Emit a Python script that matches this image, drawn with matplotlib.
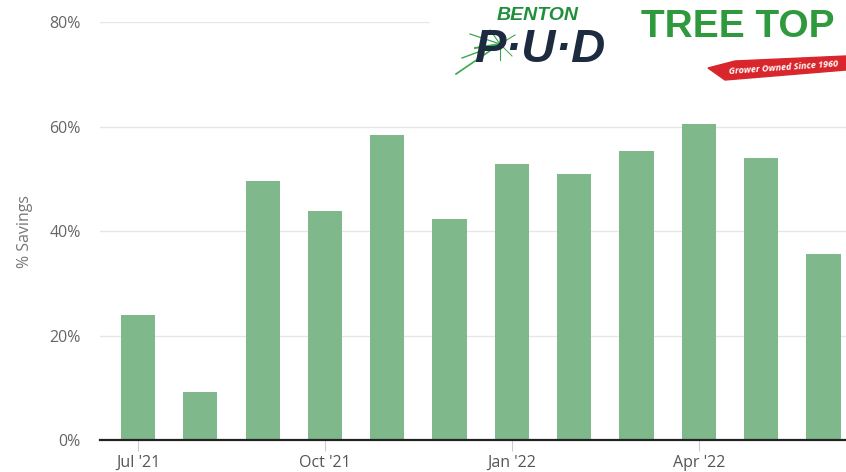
import matplotlib
matplotlib.use("Agg")
import matplotlib.pyplot as plt
from matplotlib.patches import Polygon, Rectangle

months = ["Jul '21", "Aug '21", "Sep '21", "Oct '21", "Nov '21", "Dec '21",
          "Jan '22", "Feb '22", "Mar '22", "Apr '22", "May '22", "Jun '22"]
savings = [23.9, 9.1, 49.6, 43.9, 58.4, 42.3, 52.9, 51.0, 55.4, 60.6, 54.0, 35.6]
tick_idx = [0, 3, 6, 9]
yticks = [0, 20, 40, 60, 80]

plt.rcParams["font.family"] = ["Open Sans", "DejaVu Sans"]

W, H = 846, 472
fig = plt.figure(figsize=(W / 100, H / 100), dpi=100)
ax = fig.add_axes([100 / W, 1 - 440 / H, 1 - 100 / W, (440 - 22.4) / H])

x = list(range(len(savings)))
ax.bar(x, savings, width=0.55, color="#7fb98b", zorder=2)
ax.set_xlim(-0.61, 11.36)
ax.set_ylim(0, 80)
ax.set_yticks(yticks)
ax.set_yticklabels([f"{v}%" for v in yticks], color="#666666", fontsize=11.5)
ax.set_xticks(tick_idx)
ax.set_xticklabels([months[i] for i in tick_idx], color="#555555", fontsize=11.5)
ax.tick_params(axis="y", length=0, pad=14)
ax.tick_params(axis="x", length=8, color="#cccccc", pad=3)
ax.grid(axis="y", color="#e6e6e6", lw=1, zorder=0)
for s in ["top", "right", "left"]:
    ax.spines[s].set_visible(False)
ax.spines["bottom"].set_color("#222222")
ax.spines["bottom"].set_linewidth(1.6)
ax.spines["bottom"].set_zorder(3)
ax.set_ylabel("% Savings", color="#777777", fontsize=11.5, labelpad=12)

# logos overlay, in figure pixel coordinates
lg = fig.add_axes([0, 0, 1, 1])
lg.set_xlim(0, W)
lg.set_ylim(H, 0)
lg.axis("off")
lg.patch.set_alpha(0)
lg.add_patch(Rectangle((430, 0), W - 430, 85, color="white", zorder=1))

# Benton PUD
lg.text(538, 15, "BENTON", color="#1f8f3c", fontsize=14, fontweight="bold",
        style="italic", family="Liberation Sans", ha="center", va="center", zorder=3)
cx, cy = 500, 44
for ex, ey, lw in [(456, 74, 1.2), (462, 58, 1.0), (470, 34, 0.9), (490, 30, 0.8),
                   (475, 48, 1.4), (500, 60, 0.8), (515, 35, 0.8), (512, 56, 0.7)]:
    lg.plot([cx, ex], [cy, ey], color="#3aa84a", lw=lw, zorder=2)
lg.text(540, 50, "P·U·D", color="#1c2b40", fontsize=34, fontweight="bold",
        style="italic", family="Liberation Sans", ha="center", va="center", zorder=3)

# Tree Top
lg.text(641, 27, "TREE TOP", color="#2f9a3d", fontsize=28, fontweight="bold",
        family="Liberation Sans", ha="left", va="center", zorder=3)
lg.add_patch(Polygon([(708, 68), (735, 61), (846, 56), (846, 70), (725, 80)],
                     closed=True, color="#d9262c", zorder=3))
lg.text(784, 68, "Grower Owned Since 1960", color="white", fontsize=6.5,
        fontweight="bold", style="italic", ha="center", va="center",
        rotation=4, zorder=4)

plt.savefig("out.png", dpi=100)
